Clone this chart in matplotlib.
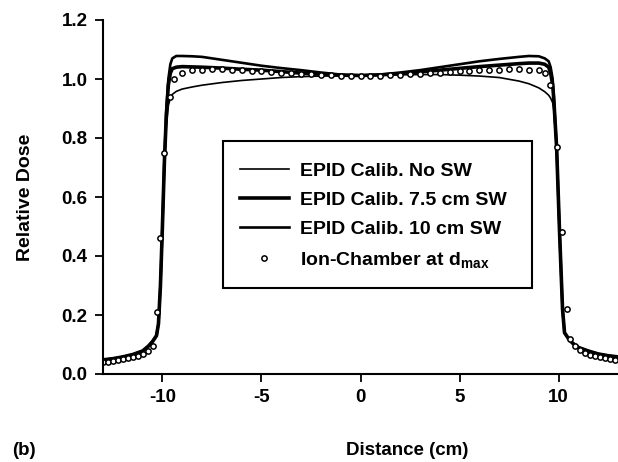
import matplotlib
matplotlib.use('Agg')
import matplotlib.pyplot as plt
from matplotlib.patches import Rectangle

plt.rcParams['font.family'] = ['Liberation Sans', 'DejaVu Sans']
plt.rcParams['font.weight'] = 'bold'
plt.rcParams['axes.labelweight'] = 'bold'
plt.rcParams['axes.unicode_minus'] = False
plt.rcParams['mathtext.default'] = 'regular'

# ==================== DATA ====================

# shared x grid for the three EPID profiles (cm)
epid_x = [-13, -12.5, -12, -11.5, -11, -10.7, -10.5, -10.3, -10.2, -10.1, -10.0,
          -9.9, -9.8, -9.7, -9.6, -9.5, -9.3, -9.0, -8.5, -8, -7, -6, -5, -4,
          -3, -2, -1, 0, 1, 2, 3, 4, 5, 6, 7, 8, 8.5, 9, 9.3, 9.5, 9.6, 9.7,
          9.75, 9.9, 10.05, 10.2, 10.3, 10.5, 10.7, 11, 11.5, 12, 12.5, 13]

no_sw = [0.048, 0.052, 0.058, 0.066, 0.078, 0.095, 0.11, 0.13, 0.17, 0.30, 0.50,
         0.70, 0.84, 0.91, 0.935, 0.948, 0.958, 0.966, 0.973, 0.979, 0.988, 0.995,
         1.0, 1.005, 1.008, 1.010, 1.011, 1.012, 1.013, 1.014, 1.015, 1.015, 1.013,
         1.010, 1.005, 0.993, 0.984, 0.970, 0.957, 0.945, 0.935, 0.92,
         0.90, 0.76, 0.48, 0.22, 0.14, 0.12, 0.105, 0.09, 0.078, 0.068, 0.062, 0.058]

sw_75 = [0.048, 0.052, 0.058, 0.066, 0.078, 0.095, 0.11, 0.13, 0.17, 0.30, 0.50,
         0.72, 0.88, 0.98, 1.02, 1.035, 1.040, 1.042, 1.041, 1.040, 1.037, 1.033,
         1.030, 1.025, 1.020, 1.016, 1.013, 1.012, 1.014, 1.018, 1.024, 1.030, 1.036,
         1.042, 1.047, 1.052, 1.054, 1.054, 1.050, 1.040, 1.020, 0.98,
         0.94, 0.77, 0.48, 0.22, 0.14, 0.12, 0.105, 0.09, 0.078, 0.068, 0.062, 0.058]

sw_10 = [0.048, 0.052, 0.058, 0.066, 0.078, 0.095, 0.11, 0.13, 0.17, 0.30, 0.50,
         0.73, 0.90, 1.00, 1.05, 1.07, 1.078, 1.078, 1.077, 1.075, 1.065, 1.055,
         1.045, 1.037, 1.030, 1.022, 1.015, 1.012, 1.015, 1.022, 1.030, 1.040, 1.050,
         1.060, 1.068, 1.075, 1.078, 1.077, 1.070, 1.060, 1.040, 1.00,
         0.95, 0.77, 0.48, 0.22, 0.14, 0.12, 0.105, 0.09, 0.078, 0.068, 0.062, 0.058]

# ion chamber measurements at dmax
ion_x = [-13, -12.75, -12.5, -12.25, -12, -11.75, -11.5, -11.25, -11, -10.75, -10.5,
         -10.25, -10.1, -9.9, -9.6, -9.4, -9.0, -8.5, -8, -7.5, -7, -6.5, -6, -5.5,
         -5, -4.5, -4, -3.5, -3, -2.5, -2, -1.5, -1, -0.5, 0, 0.5, 1, 1.5, 2, 2.5,
         3, 3.5, 4, 4.5, 5, 5.5, 6, 6.5, 7, 7.5, 8, 8.5, 9, 9.3, 9.55, 9.9, 10.15,
         10.4, 10.6, 10.85, 11.1, 11.35, 11.6, 11.85, 12.1, 12.35, 12.6, 12.85]
ion_y = [0.040, 0.042, 0.044, 0.047, 0.050, 0.053, 0.057, 0.062, 0.068, 0.078, 0.095,
         0.21, 0.46, 0.75, 0.94, 1.00, 1.020, 1.030, 1.032, 1.033, 1.033, 1.032, 1.030,
         1.028, 1.026, 1.024, 1.022, 1.020, 1.018, 1.016, 1.014, 1.012, 1.011, 1.010,
         1.010, 1.010, 1.011, 1.012, 1.014, 1.016, 1.018, 1.020, 1.022, 1.024, 1.026,
         1.028, 1.030, 1.031, 1.032, 1.033, 1.033, 1.032, 1.030, 1.020, 0.98, 0.77,
         0.48, 0.22, 0.12, 0.095, 0.08, 0.072, 0.066, 0.061, 0.057, 0.054, 0.051, 0.048]

x_ticks = [-10, -5, 0, 5, 10]
y_ticks = [0.0, 0.2, 0.4, 0.6, 0.8, 1.0, 1.2]

# ==================== PLOT ====================

fig = plt.figure(figsize=(6.18, 4.62), dpi=100)
ax = fig.add_axes([103 / 618, 88 / 462, 515 / 618, 354 / 462])

ax.plot(epid_x, no_sw, color='black', lw=1.2, label='EPID Calib. No SW')
ax.plot(epid_x, sw_75, color='black', lw=2.6, label='EPID Calib. 7.5 cm SW')
ax.plot(epid_x, sw_10, color='black', lw=1.9, label='EPID Calib. 10 cm SW')
ax.plot(ion_x, ion_y, ls='none', marker='o', ms=3.8, mfc='white', mec='black',
        mew=1.1, label='Ion-Chamber at d$_{max}$')

ax.set_xlim(-13, 13)
ax.set_ylim(0, 1.2)
ax.set_xticks(x_ticks)
ax.set_yticks(y_ticks)
ax.set_yticklabels([f'{v:.1f}' for v in y_ticks])
ax.spines['top'].set_visible(False)
ax.spines['right'].set_visible(False)
ax.spines['left'].set_linewidth(1.5)
ax.spines['bottom'].set_linewidth(1.5)
ax.tick_params(direction='out', length=6, width=1.3, labelsize=13.5, pad=5)

ax.set_ylabel('Relative Dose', fontsize=14, labelpad=20)
fig.text(407 / 618, 7 / 462, 'Distance (cm)', ha='center', va='baseline', fontsize=13.5)
fig.text(12 / 618, 7 / 462, '(b)', ha='left', va='baseline', fontsize=13.5)

# legend with its own frame (box is taller than the entries)
leg = ax.legend(loc='upper left', bbox_to_anchor=(240 / 618, 1 - 162 / 462),
                bbox_transform=fig.transFigure, frameon=False, fontsize=14,
                handlelength=2.5, handletextpad=0.6, labelspacing=0.6,
                borderpad=0, borderaxespad=0)
fig.patches.append(Rectangle((223 / 618, (462 - 288) / 462), 309 / 618, 147 / 462,
                             transform=fig.transFigure, fill=False,
                             edgecolor='black', lw=1.5))

fig.savefig('out.png', dpi=100)
